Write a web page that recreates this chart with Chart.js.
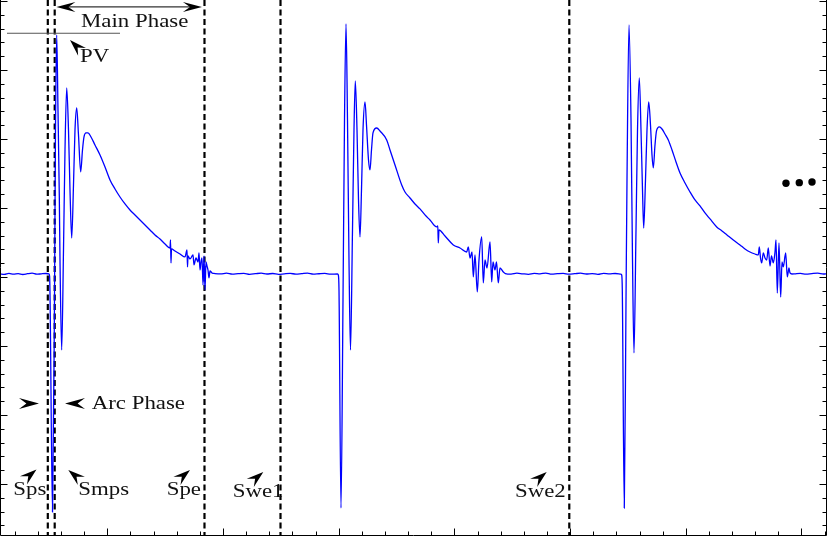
<!DOCTYPE html>
<html>
<head>
<meta charset="utf-8">
<script src="https://cdn.jsdelivr.net/npm/chart.js@4"></script>
<style>
  html, body { margin: 0; padding: 0; background: #fff; }
  #wrap { width: 827px; height: 536px; }
</style>
</head>
<body>
<div id="wrap"><canvas id="signal" width="827" height="536"></canvas></div>
<script>
// time in tick units (one minor tick = 1), voltage in major-tick units

const quiet0T = [0.36, 0.55, 0.75, 0.95, 1.15, 1.35, 1.55, 1.75, 1.95, 2.15, 2.35, 2.48];
const quiet0V = [0.045, 0.038, 0.052, 0.041, 0.049, 0.036, 0.047, 0.055, 0.040, 0.046, 0.050, 0.044];

const pulse1T = [2.506, 2.632, 2.718, 2.761, 2.813, 2.869, 2.926, 2.956, 3.029, 3.107, 3.172, 3.246, 3.323, 3.388, 3.462, 3.539, 3.604, 3.678, 3.755, 3.850, 3.928, 3.993, 4.080, 4.166, 4.296, 4.468, 4.685, 4.901, 5.117, 5.333, 5.549, 5.765, 5.981, 6.197, 6.413, 6.629, 6.845, 7.061, 7.277, 7.494, 7.710, 7.731, 7.753, 7.774, 7.926, 8.142, 8.358, 8.444, 8.466, 8.487, 8.574, 8.704, 8.747, 8.833, 8.920, 8.963, 9.006, 9.049, 9.092, 9.136, 9.179, 9.222, 9.265, 9.308, 9.352, 9.395, 9.438, 9.525];
const pulse1V = [0.014, -3.406, -0.333, 2.130, 3.507, 2.420, 1.174, 0.246, -1.058, 0.391, 1.841, 2.739, 2.130, 1.261, 0.565, 1.333, 2.130, 2.449, 2.058, 1.522, 1.841, 2.029, 2.087, 2.087, 2.029, 1.913, 1.768, 1.594, 1.406, 1.275, 1.159, 1.058, 0.971, 0.899, 0.826, 0.754, 0.681, 0.609, 0.551, 0.478, 0.420, 0.536, 0.203, 0.406, 0.377, 0.333, 0.290, 0.391, 0.145, 0.304, 0.261, 0.319, 0.174, 0.275, 0.217, 0.348, 0.101, 0.217, 0.275, -0.116, 0.304, -0.188, 0.217, 0.159, 0.101, -0.014, 0.087, 0.058];

const quiet1T = [9.65, 9.9, 10.15, 10.4, 10.65, 10.9, 11.15, 11.4, 11.65, 11.9, 12.15, 12.4, 12.65, 12.9, 13.15, 13.4, 13.65, 13.9, 14.15, 14.4, 14.65, 14.95];
const quiet1V = [0.050, 0.044, 0.056, 0.041, 0.048, 0.053, 0.039, 0.047, 0.055, 0.043, 0.050, 0.038, 0.046, 0.052, 0.041, 0.049, 0.057, 0.042, 0.047, 0.051, 0.040, 0.045];

const pulse2T = [14.983, 15.013, 15.099, 15.186, 15.251, 15.316, 15.380, 15.445, 15.510, 15.596, 15.661, 15.717, 15.791, 15.856, 15.920, 15.985, 16.050, 16.137, 16.201, 16.288, 16.353, 16.417, 16.482, 16.642, 16.785, 17.074, 17.217, 17.433, 17.723, 17.865, 18.081, 18.297, 18.513, 18.729, 18.945, 19.235, 19.283, 19.304, 19.334, 19.594, 19.953, 20.242, 20.532, 20.601, 20.674, 20.761, 20.817, 20.890, 20.990, 21.063, 21.180, 21.249, 21.322, 21.409, 21.539, 21.612, 21.668, 21.754, 21.819, 21.897, 21.970, 22.113];
const pulse2V = [0.029, -0.188, -3.348, -0.333, 2.275, 3.667, 2.275, 0.246, -1.058, 0.681, 2.130, 2.841, 2.130, 1.116, 0.580, 1.261, 2.130, 2.536, 2.203, 1.696, 1.551, 1.841, 2.087, 2.159, 2.116, 1.986, 1.841, 1.623, 1.333, 1.232, 1.145, 1.058, 0.986, 0.899, 0.826, 0.725, 0.739, 0.493, 0.681, 0.594, 0.464, 0.420, 0.362, 0.435, 0.275, 0.362, 0.000, 0.319, -0.217, 0.246, 0.580, -0.087, 0.246, 0.130, 0.507, -0.072, 0.217, 0.101, 0.217, -0.087, 0.130, 0.072];

const quiet2T = [22.2, 22.45, 22.7, 22.95, 23.2, 23.45, 23.7, 23.95, 24.2, 24.45, 24.7, 24.95, 25.2, 25.45, 25.7, 25.95, 26.2, 26.45, 26.7, 26.95, 27.2];
const quiet2V = [0.050, 0.042, 0.055, 0.046, 0.039, 0.051, 0.044, 0.057, 0.041, 0.048, 0.053, 0.040, 0.047, 0.055, 0.043, 0.049, 0.038, 0.052, 0.045, 0.050, 0.042];

const pulse3T = [27.230, 27.256, 27.342, 27.416, 27.459, 27.545, 27.632, 27.697, 27.761, 27.848, 27.913, 27.990, 28.064, 28.129, 28.180, 28.258, 28.323, 28.397, 28.474, 28.539, 28.595, 28.669, 28.734, 28.855, 28.971, 29.101, 29.244, 29.404, 29.577, 29.750, 29.966, 30.182, 30.398, 30.614, 30.830, 31.046, 31.336, 31.564, 31.780, 32.053, 32.342, 32.558, 32.774, 32.990, 33.133, 33.176, 33.228, 33.280, 33.349, 33.423, 33.496, 33.565, 33.639, 33.703, 33.781, 33.855, 33.898, 33.954, 34.027, 34.101, 34.157, 34.213, 34.317, 34.386, 34.459, 34.502, 34.589];
const pulse3V = [0.029, -0.188, -3.348, -0.333, 1.406, 3.652, 2.275, 0.246, -1.101, 0.681, 2.130, 2.884, 2.130, 1.261, 0.710, 1.406, 2.130, 2.536, 2.203, 1.768, 1.580, 1.913, 2.116, 2.174, 2.145, 2.072, 1.986, 1.841, 1.667, 1.507, 1.362, 1.232, 1.116, 1.029, 0.928, 0.841, 0.725, 0.667, 0.609, 0.536, 0.464, 0.406, 0.362, 0.333, 0.319, 0.435, 0.275, 0.203, 0.348, 0.275, 0.246, 0.420, 0.159, 0.304, 0.203, 0.362, 0.536, -0.232, 0.493, -0.290, 0.217, 0.145, 0.348, 0.000, 0.130, 0.058, 0.043];

const quiet3T = [34.7, 34.95, 35.2, 35.45, 35.7, 35.95, 36.1];
const quiet3V = [0.045, 0.052, 0.040, 0.049, 0.055, 0.043, 0.047];

// phase boundaries (Sps, Smps, Spe, Swe1, Swe2)
const markerTimes = [2.429, 2.727, 9.200, 12.485, 24.965];

// peak voltage reference line
const pvT = [0.666, 5.549];
const pvLevel = 3.532;

// "..." continuation dots
const dotsT = [34.330, 34.905, 35.454];
const dotsV = [1.358, 1.367, 1.377];

const X_MIN = 0.363, X_MAX = 36.102;
const Y_MIN = -3.754, Y_MAX = 4.014;

function toPoints(ts, vs) {
  return ts.map((t, i) => ({ x: t, y: vs[i] }));
}

const signal = [].concat(
  toPoints(quiet0T, quiet0V),
  toPoints(pulse1T, pulse1V),
  toPoints(quiet1T, quiet1V),
  toPoints(pulse2T, pulse2V),
  toPoints(quiet2T, quiet2V),
  toPoints(pulse3T, pulse3V),
  toPoints(quiet3T, quiet3V)
);

const datasets = [
  {
    data: signal,
    borderColor: "#0000ff",
    borderWidth: 1.3,
    pointRadius: 0,
    cubicInterpolationMode: "monotone",
  },
  {
    data: pvT.map((t) => ({ x: t, y: pvLevel })),
    borderColor: "#555",
    borderWidth: 1,
    pointRadius: 0,
  },
  {
    type: "scatter",
    data: toPoints(dotsT, dotsV),
    backgroundColor: "#000",
    borderWidth: 0,
    pointRadius: 3.7,
    pointHoverRadius: 3.7,
  },
];

markerTimes.forEach((t) => {
  datasets.push({
    data: [{ x: t, y: Y_MAX }, { x: t, y: Y_MIN }],
    borderColor: "#000",
    borderWidth: 2.2,
    borderDash: [6, 3.5],
    pointRadius: 0,
  });
});

// text notes, placed in data units
const notes = [
  { text: "Main Phase", t: 6.184, v: 3.623, align: "center" },
  { text: "PV", t: 3.820, v: 3.112 },
  { text: "Arc Phase", t: 4.326, v: -1.917 },
  { text: "Sps", t: 0.938, v: -3.159 },
  { text: "Smps", t: 3.747, v: -3.159 },
  { text: "Spe", t: 7.567, v: -3.159 },
  { text: "Swe1", t: 10.419, v: -3.188 },
  { text: "Swe2", t: 22.619, v: -3.188 },
];

// arrow heads: tip position and pointing direction
const heads = [
  { t: 3.388, v: 3.435, deg: -135, len: 17 },
  { t: 2.048, v: -1.833, deg: 0, len: 20 },
  { t: 3.172, v: -1.833, deg: 180, len: 20 },
  { t: 1.940, v: -2.790, deg: -40, len: 17 },
  { t: 3.315, v: -2.797, deg: -140, len: 17 },
  { t: 8.574, v: -2.797, deg: -40, len: 17 },
  { t: 11.742, v: -2.826, deg: -40, len: 17 },
  { t: 23.989, v: -2.826, deg: -40, len: 17 },
];

const mainSpan = { t0: 2.80, t1: 9.09, v: 3.913 };

function arrowHead(ctx, x, y, angle, len, half) {
  ctx.save();
  ctx.translate(x, y);
  ctx.rotate(angle);
  ctx.beginPath();
  ctx.moveTo(0, 0);
  ctx.lineTo(-len, -half);
  ctx.lineTo(-len * 0.63, 0);
  ctx.lineTo(-len, half);
  ctx.closePath();
  ctx.fill();
  ctx.restore();
}

const overlay = {
  id: "overlay",
  afterDatasetsDraw(chart) {
    const { ctx, chartArea, scales } = chart;
    const sx = scales.x, sy = scales.y;
    ctx.save();

    // frame and inward ticks
    ctx.strokeStyle = "#000";
    ctx.lineWidth = 1;
    const L = chartArea.left + 0.5, R = chartArea.right - 0.5, B = chartArea.bottom - 0.5;
    ctx.beginPath();
    ctx.moveTo(L, chartArea.top); ctx.lineTo(L, B); ctx.lineTo(R, B); ctx.lineTo(R, chartArea.top);
    ctx.stroke();

    ctx.beginPath();
    for (let i = Math.ceil(X_MIN); i <= Math.floor(X_MAX); i++) {
      const p = Math.round(sx.getPixelForValue(i)) + 0.5;
      const len = i % 5 === 0 ? 7 : 4;
      ctx.moveTo(p, B); ctx.lineTo(p, B - len);
    }
    for (let k = Math.ceil(Y_MIN / 0.2); k <= Math.floor(Y_MAX / 0.2); k++) {
      const p = Math.round(sy.getPixelForValue(k * 0.2)) + 0.5;
      const len = k % 5 === 0 ? 7 : 4;
      ctx.moveTo(L, p); ctx.lineTo(L + len, p);
      ctx.moveTo(R, p); ctx.lineTo(R - len, p);
    }
    ctx.stroke();

    // main phase double arrow
    const a0 = sx.getPixelForValue(mainSpan.t0);
    const a1 = sx.getPixelForValue(mainSpan.t1);
    const ay = sy.getPixelForValue(mainSpan.v);
    ctx.strokeStyle = "#333";
    ctx.lineWidth = 1.2;
    ctx.beginPath();
    ctx.moveTo(a0 + 10, ay); ctx.lineTo(a1 - 10, ay);
    ctx.stroke();
    ctx.fillStyle = "#000";
    arrowHead(ctx, a0, ay, Math.PI, 19, 5);
    arrowHead(ctx, a1, ay, 0, 19, 5);

    heads.forEach((h) => {
      arrowHead(ctx, sx.getPixelForValue(h.t), sy.getPixelForValue(h.v), (h.deg * Math.PI) / 180, h.len, 5.5);
    });

    // labels (LaTeX-like wide serif)
    const stretch = 1.27;
    ctx.font = '18px "Liberation Serif"';
    ctx.fillStyle = "#111";
    ctx.textBaseline = "alphabetic";
    notes.forEach((n) => {
      const w = ctx.measureText(n.text).width * stretch;
      let x = sx.getPixelForValue(n.t);
      if (n.align === "center") x -= w / 2;
      ctx.save();
      ctx.translate(x, sy.getPixelForValue(n.v));
      ctx.scale(stretch, 1);
      ctx.fillText(n.text, 0, 0);
      ctx.restore();
    });

    ctx.restore();
  },
};

new Chart(document.getElementById("signal").getContext("2d"), {
  type: "line",
  data: { datasets },
  options: {
    responsive: false,
    animation: false,
    devicePixelRatio: 1,
    layout: { padding: 0, autoPadding: false },
    plugins: { legend: { display: false }, tooltip: { enabled: false } },
    scales: {
      x: { type: "linear", min: X_MIN, max: X_MAX, display: false },
      y: { type: "linear", min: Y_MIN, max: Y_MAX, display: false },
    },
  },
  plugins: [overlay],
});
</script>
</body>
</html>
